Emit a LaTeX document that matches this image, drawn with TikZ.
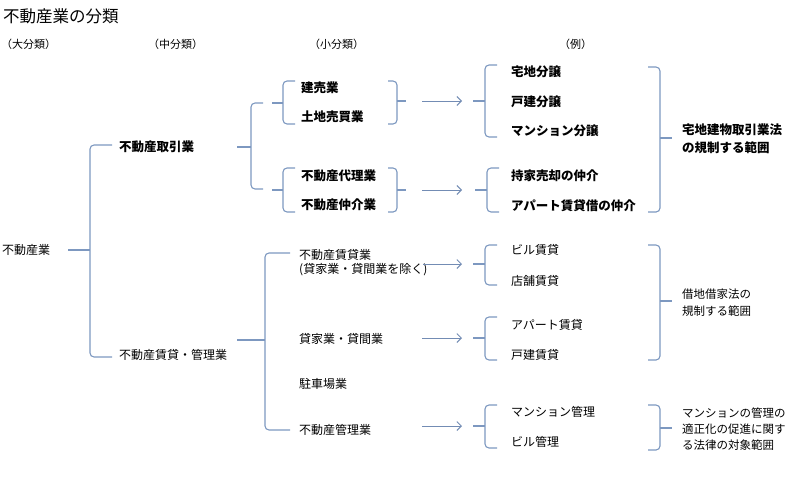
\documentclass[tikz,border=0pt]{standalone}
\usepackage{fontspec}
\setmainfont{Noto Sans CJK JP}
\usepackage{tikz}
\usetikzlibrary{arrows.meta}
\definecolor{bracecol}{RGB}{125,152,192}
\definecolor{arrowcol}{RGB}{115,140,180}
\tikzstyle{brace} = [draw=bracecol, line width=1.1pt, rounded corners=4pt]
\tikzstyle{arrow} = [draw=arrowcol, line width=0.9pt, ->, >={Straight Barb[length=4.5pt,width=9pt]}]
\tikzstyle{head} = [anchor=west, inner sep=0pt, font=\fontsize{11}{13}\selectfont]
\tikzstyle{item} = [anchor=west, inner sep=0pt, font=\fontsize{12}{15}\selectfont]
\tikzstyle{bolditem} = [anchor=west, inner sep=0pt, font=\fontsize{12.5}{15}\selectfont\bfseries]
\tikzstyle{note} = [anchor=west, inner sep=0pt, font=\fontsize{11.5}{14}\selectfont]
% left brace: name, x, top, bottom, tip y, arm, tip length
\newcommand{\leftbrace}[7]{
  \draw[brace] (#2+#6,#3) -- (#2,#3) -- (#2,#4) -- (#2+#6,#4);
  \draw[brace] (#2,#5) -- (#2-#7,#5) coordinate (#1);
}
% right brace: name, x, top, bottom, tip y, arm, tip length
\newcommand{\rightbrace}[7]{
  \draw[brace] (#2-#6,#3) -- (#2,#3) -- (#2,#4) -- (#2-#6,#4);
  \draw[brace] (#2,#5) -- (#2+#7,#5) coordinate (#1);
}

\begin{document}
\begin{tikzpicture}[x=1pt, y=-1pt]
\useasboundingbox (0,0) rectangle (800,480);

\node (title) [anchor=west, inner sep=0pt, font=\fontsize{16.5}{19}\selectfont] at (3,16) {不動産業の分類};

\node (head-dai) [head] at (1,44) {（大分類）};
\node (head-chu) [head] at (148,44) {（中分類）};
\node (head-sho) [head] at (309,44) {（小分類）};
\node (head-rei) [head] at (559,44) {（例）};

% main category
\node (fudosan) [item] at (2,250) {不動産業};
\leftbrace{tip-fudosan}{90}{145}{357}{250}{22}{22}

\node (torihiki) [bolditem] at (119,147) {不動産取引業};
\node (chintai) [item] at (119,355) {不動産賃貸・管理業};

% trading side
\leftbrace{tip-torihiki}{251}{103}{189}{147}{12}{14}
\leftbrace{tip-c1}{283}{81}{124}{103}{12}{11}
\leftbrace{tip-c2}{283}{168}{212}{190}{12}{11}

\node (tateuri) [bolditem] at (301,88) {建売業};
\node (tochi) [bolditem] at (301,117) {土地売買業};
\node (dairi) [bolditem] at (301,176) {不動産代理業};
\node (chukai) [bolditem] at (301,205) {不動産仲介業};

\rightbrace{tip-d1}{397}{81}{124}{101}{9}{9}
\rightbrace{tip-d2}{397}{168}{212}{190}{9}{9}

\leftbrace{tip-e1}{485}{65}{137}{101}{12}{12}
\leftbrace{tip-e2}{487}{168}{212}{190}{12}{12}

\draw [arrow, shorten <=16pt, shorten >=11pt] (tip-d1) -- (tip-e1);
\draw [arrow, shorten <=16pt, shorten >=13pt] (tip-d2) -- (tip-e2);

\node (takuchi) [bolditem] at (511,72) {宅地分譲};
\node (kodate) [bolditem] at (511,102) {戸建分譲};
\node (mansion) [bolditem] at (511,131) {マンション分譲};
\node (mochiie) [bolditem] at (511,176) {持家売却の仲介};
\node (apart) [bolditem] at (511,206) {アパート賃貸借の仲介};

\rightbrace{tip-f1}{660}{67}{212}{138}{12}{12}
\node (takken) [bolditem] at (682,130) {宅地建物取引業法};
\node (takken2) [bolditem] at (682,148) {の規制する範囲};

% leasing and management side
\leftbrace{tip-chintai}{265}{253}{430}{340}{25}{28}

\node (kashi) [item] at (299,255) {不動産賃貸業};
\node (kashi-note) [item] at (299,270) {(貸家業・貸間業を除く)};
\node (kashiya) [item] at (299,339) {貸家業・貸間業};
\node (parking) [item] at (299,384) {駐車場業};
\node (kanri) [item] at (299,430) {不動産管理業};

\leftbrace{tip-h1}{485}{245}{285}{264}{12}{12}
\leftbrace{tip-h2}{485}{317}{360}{338}{12}{12}
\leftbrace{tip-h3}{485}{405}{448}{426}{12}{12}

\coordinate (from-kashi) at (423,264);
\coordinate (from-kashiya) at (422,338);
\coordinate (from-kanri) at (422,426);
\draw [arrow, shorten >=11pt] (from-kashi) -- (tip-h1);
\draw [arrow, shorten >=11pt] (from-kashiya) -- (tip-h2);
\draw [arrow, shorten >=11pt] (from-kanri) -- (tip-h3);

\node (biru) [item] at (511,250) {ビル賃貸};
\node (tenpo) [item] at (511,281) {店舗賃貸};
\node (apart-c) [item] at (511,325) {アパート賃貸};
\node (kodate-c) [item] at (511,355) {戸建賃貸};
\node (mansion-k) [item] at (511,412) {マンション管理};
\node (biru-k) [item] at (511,442) {ビル管理};

\rightbrace{tip-i1}{660}{245}{360}{301}{12}{12}
\rightbrace{tip-i2}{660}{405}{450}{428}{12}{12}

\node (shakuchi) [note] at (682,294) {借地借家法の};
\node (shakuchi2) [note] at (682,311) {規制する範囲};
\node (tekisei) [note] at (682,413) {マンションの管理の};
\node (tekisei2) [note] at (682,429) {適正化の促進に関す};
\node (tekisei3) [note] at (682,445) {る法律の対象範囲};
\end{tikzpicture}
\end{document}
